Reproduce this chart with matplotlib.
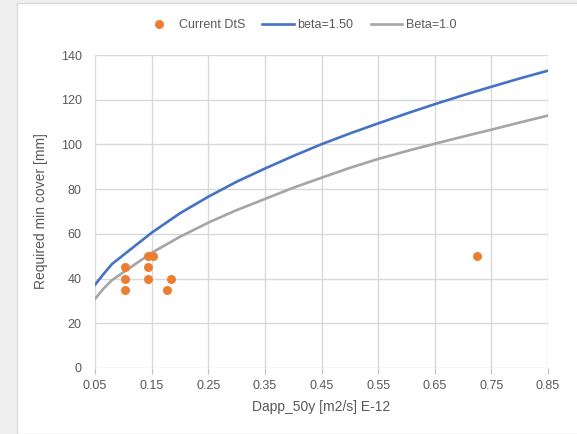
import matplotlib
matplotlib.use("Agg")
import matplotlib.pyplot as plt
from matplotlib.patches import Rectangle
from matplotlib.lines import Line2D

# measured points (Current DtS)
dts_x = [0.103, 0.103, 0.103, 0.143, 0.143, 0.143, 0.152, 0.177, 0.184, 0.725]
dts_y = [45, 40, 35, 50, 45, 40, 50, 35, 40, 50]

# required cover curves
curve_x = [0.05, 0.065, 0.08, 0.10, 0.15, 0.20, 0.25, 0.30, 0.35, 0.40,
           0.45, 0.50, 0.55, 0.60, 0.65, 0.70, 0.75, 0.80, 0.85]
beta150 = [37.2, 42.0, 46.5, 50.5, 60.5, 69.2, 76.6, 83.3, 89.2, 94.8,
           100.1, 104.9, 109.4, 113.8, 118.0, 122.0, 125.8, 129.5, 133.0]
beta10 = [30.9, 35.5, 39.3, 42.8, 51.5, 58.7, 65.0, 70.6, 75.6, 80.6,
          85.1, 89.5, 93.5, 97.0, 100.3, 103.5, 106.6, 109.8, 112.9]

xticks = [0.05, 0.15, 0.25, 0.35, 0.45, 0.55, 0.65, 0.75, 0.85]
yticks = [0, 20, 40, 60, 80, 100, 120, 140]

txt = "#595959"
plt.rcParams['font.family'] = ['Liberation Sans', 'DejaVu Sans']

fig = plt.figure(figsize=(5.77, 4.34), dpi=100, facecolor="#efefef")
# white chart area with thin border, behind the axes
fig.patches.append(Rectangle((17 / 577, 0), 1.0, (434 - 3) / 434, transform=fig.transFigure,
                             facecolor="white", edgecolor="#d9d9d9", lw=1, zorder=-10))

ax = fig.add_axes([95 / 577, 66 / 434, 453 / 577, 313 / 434])
ax.set_facecolor("white")

ax.plot(curve_x, beta150, color="#4472C4", lw=1.9, zorder=3)
ax.plot(curve_x, beta10, color="#A5A5A5", lw=1.9, zorder=3)
ax.scatter(dts_x, dts_y, s=42, color="#ED7D31", zorder=4, linewidths=0)

ax.set_xlim(0.05, 0.85)
ax.set_ylim(0, 140)
ax.set_xticks(xticks)
ax.set_yticks(yticks)
ax.set_xticklabels([f"{v:.2f}" for v in xticks])
ax.grid(True, color="#d9d9d9", lw=1)
ax.set_axisbelow(True)
for s in ax.spines.values():
    s.set_visible(False)
ax.tick_params(axis="x", length=4, color="#bfbfbf", pad=4.5, labelsize=9, labelcolor=txt)
ax.tick_params(axis="y", length=0, pad=9.5, labelsize=9, labelcolor=txt)

ax.set_xlabel("Dapp_50y [m2/s] E-12", fontsize=10, color=txt, labelpad=6)
ax.set_ylabel("Required min cover [mm]", fontsize=10, color=txt, labelpad=9)

handles = [
    Line2D([], [], ls="none", marker="o", ms=6.5, color="#ED7D31", markeredgewidth=0),
    Line2D([], [], color="#4472C4", lw=1.9),
    Line2D([], [], color="#A5A5A5", lw=1.9),
]
fig.legend(handles, ["Current DtS", "beta=1.50", "Beta=1.0"], loc="center",
           bbox_to_anchor=(300 / 577, 1 - 25 / 434), ncol=3, frameon=False,
           fontsize=9, labelcolor=txt, handlelength=2.5, handletextpad=0.3,
           columnspacing=1.4)

fig.savefig("out.png", dpi=100, facecolor=fig.get_facecolor())
